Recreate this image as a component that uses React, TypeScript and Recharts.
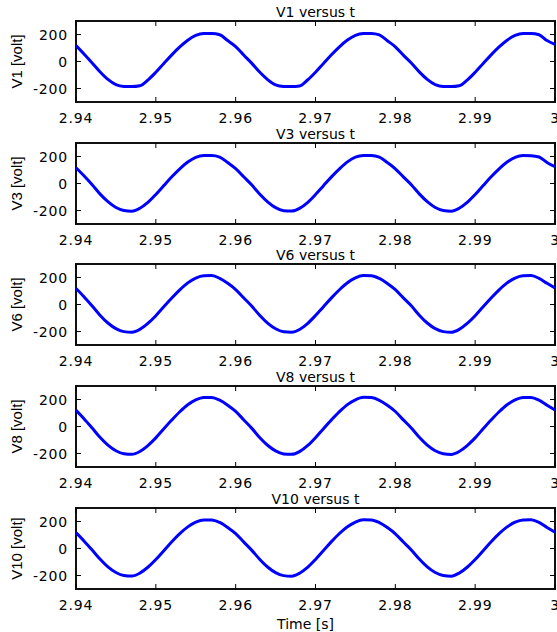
import { LineChart, Line, XAxis, YAxis, ReferenceArea } from 'recharts';

// samples every 1 ms from t = 2.94 s to 3.00 s
const T0 = 2.94;
const STEP = 0.001;

const xTicks = [2.94, 2.95, 2.96, 2.97, 2.98, 2.99, 3.0];
const xTickLabels = ['2.94', '2.95', '2.96', '2.97', '2.98', '2.99', '3'];
const yTicks = [-200, 0, 200];
const yTickLabels = ['-200', '0', '200'];

const titles = ['V1 versus t', 'V3 versus t', 'V6 versus t', 'V8 versus t', 'V10 versus t'];
const yLabels = ['V1 [volt]', 'V3 [volt]', 'V6 [volt]', 'V8 [volt]', 'V10 [volt]'];

const v1 = [
  118, 56, -9, -76, -133, -172, -185, -186, -180, -138, -80, -15, 49, 108, 158, 193, 207, 208, 198, 155,
  110, 48, -12, -78, -134, -173, -185, -186, -181, -137, -79, -14, 50, 109, 159, 194, 207, 208, 197, 154,
  109, 47, -11, -77, -133, -172, -186, -186, -180, -138, -80, -15, 49, 108, 158, 193, 207, 207, 198, 155,
  126
];
const v3 = [
  117, 57, -8, -77, -135, -178, -200, -205, -183, -140, -81, -15, 50, 109, 159, 194, 207, 207, 196, 156,
  110, 50, -10, -78, -136, -179, -201, -204, -184, -141, -82, -16, 49, 108, 160, 195, 207, 207, 195, 155,
  109, 49, -9, -77, -135, -178, -200, -205, -183, -140, -81, -15, 50, 109, 159, 194, 207, 206, 196, 156,
  124
];
const v6 = [
  119, 58, -9, -79, -137, -179, -201, -205, -184, -140, -83, -17, 48, 108, 160, 196, 213, 214, 194, 157,
  111, 50, -11, -80, -138, -180, -202, -205, -185, -141, -82, -16, 49, 109, 161, 197, 214, 213, 193, 156,
  110, 49, -10, -79, -137, -179, -201, -206, -184, -140, -83, -17, 48, 108, 160, 196, 213, 214, 194, 157,
  122
];
const v8 = [
  120, 58, -10, -80, -138, -180, -202, -206, -185, -141, -84, -17, 48, 109, 161, 197, 215, 215, 195, 158,
  112, 50, -12, -81, -139, -181, -203, -206, -186, -142, -83, -16, 49, 110, 162, 198, 216, 214, 194, 157,
  111, 49, -11, -80, -138, -180, -202, -207, -185, -141, -84, -17, 48, 109, 161, 197, 215, 215, 195, 158,
  123
];
const v10 = [
  118, 56, -10, -78, -136, -178, -200, -204, -182, -139, -82, -16, 50, 110, 160, 195, 212, 212, 193, 156,
  110, 49, -12, -79, -137, -179, -201, -205, -183, -140, -81, -15, 51, 111, 161, 196, 213, 212, 192, 155,
  109, 48, -11, -78, -136, -178, -200, -205, -182, -139, -82, -16, 50, 110, 160, 195, 212, 213, 193, 156,
  121
];

const series = [v1, v3, v6, v8, v10];
const plotTops = [21, 143, 264, 386, 508];

const W = 557;
const PLOT_LEFT = 76;
const PLOT_H = 81;
const MT = 22;
const FONT = '"DejaVu Sans", sans-serif';

const XTick = (props: any) => {
  const { x, y, index } = props;
  return (
    <g>
      <line x1={x} y1={y} x2={x} y2={y - 5} stroke="#000" />
      <line x1={x} y1={y - PLOT_H} x2={x} y2={y - PLOT_H + 5} stroke="#000" />
      <text x={x} y={y + 21} textAnchor="middle" fontFamily={FONT} fontSize={14} letterSpacing={0.8} fill="#000">
        {xTickLabels[index]}
      </text>
    </g>
  );
};

const YTick = (props: any) => {
  const { x, y, index } = props;
  const right = W - 2;
  return (
    <g>
      <line x1={x} y1={y} x2={x + 5} y2={y} stroke="#000" />
      <line x1={right} y1={y} x2={right - 5} y2={y} stroke="#000" />
      <text x={x - 8} y={y + 5} textAnchor="end" fontFamily={FONT} fontSize={14} letterSpacing={0.8} fill="#000">
        {yTickLabels[index]}
      </text>
    </g>
  );
};

type PanelProps = { values: number[]; title: string; yLabel: string; top: number; last: boolean };

const Panel = ({ values, title, yLabel, top, last }: PanelProps) => {
  const data = values.map((v, i) => ({ t: Math.round((T0 + i * STEP) * 1000) / 1000, v }));
  const axisH = last ? 42 : 28;
  return (
    <div style={{ position: 'absolute', left: 0, top: top - MT }}>
      <LineChart width={W} height={MT + PLOT_H + axisH} data={data} margin={{ top: MT, right: 2, left: 0, bottom: 0 }}>
        <XAxis
          dataKey="t"
          type="number"
          domain={[2.94, 3]}
          ticks={xTicks}
          interval={0}
          allowDataOverflow
          height={axisH}
          tickSize={0}
          tickMargin={0}
          axisLine={false}
          tick={XTick}
          label={
            last
              ? { value: 'Time [s]', position: 'insideBottom', offset: 2, dx: -10, fill: '#000', fontFamily: FONT, fontSize: 14 }
              : undefined
          }
        />
        <YAxis
          type="number"
          domain={[-300, 300]}
          ticks={yTicks}
          interval={0}
          allowDataOverflow
          width={PLOT_LEFT}
          tickSize={0}
          tickMargin={0}
          axisLine={false}
          tick={YTick}
          label={{
            value: yLabel,
            angle: -90,
            position: 'insideLeft',
            offset: 17,
            fill: '#000',
            style: { textAnchor: 'middle', fontFamily: '"Liberation Sans", Arial, sans-serif', fontSize: 15 }
          }}
        />
        <ReferenceArea
          x1={2.94}
          x2={3}
          y1={-300}
          y2={300}
          fill="none"
          fillOpacity={0}
          stroke="#111"
          strokeWidth={2}
          label={{ value: title, position: 'top', offset: 4, fill: '#000', fontFamily: FONT, fontSize: 14 }}
        />
        <Line
          dataKey="v"
          type="monotone"
          stroke="#0000ff"
          strokeWidth={3}
          dot={false}
          isAnimationActive={false}
        />
      </LineChart>
    </div>
  );
}

export default function App() {
  return (
    <div style={{ position: 'absolute', left: 0, top: 0, width: W, height: 632, background: '#fff', overflow: 'hidden' }}>
      {series.map((s, i) => (
        <Panel key={titles[i]} values={s} title={titles[i]} yLabel={yLabels[i]} top={plotTops[i]} last={i === series.length - 1} />
      ))}
    </div>
  );
}
